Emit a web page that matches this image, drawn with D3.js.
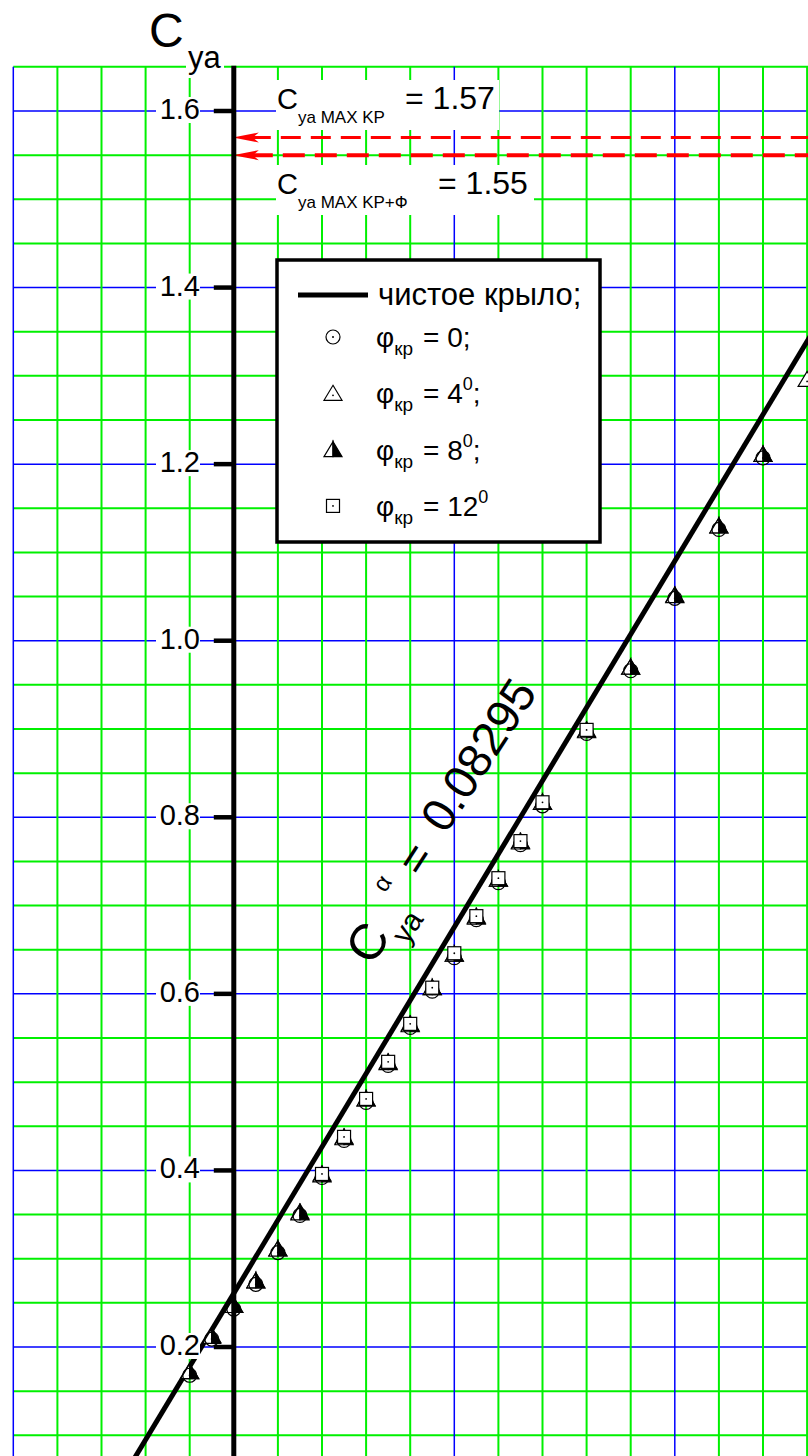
<!DOCTYPE html>
<html>
<head>
<meta charset="utf-8">
<script src="https://cdnjs.cloudflare.com/ajax/libs/d3/7.8.5/d3.min.js"></script>
<style>
    body { margin: 0; background: #fff; }
    svg { display: block; font-family: "Liberation Sans", Arial, sans-serif; }
</style>
</head>
<body>
<svg id="chart" width="808" height="1456"></svg>
<script>
// angle of attack, deg
var alphaMain = [-1, -0.5, 0, 0.5, 1, 1.5, 2, 2.5, 3, 3.5, 4, 4.5, 5, 5.5, 6, 6.5, 7, 8, 9, 10, 11, 12];
var alphaPhi4 = [-1, -0.5, 0, 0.5, 1, 1.5, 2, 2.5, 3, 3.5, 4, 4.5, 5, 5.5, 6, 6.5, 7, 8, 9, 10, 11, 12, 13];
var alphaPhi12 = [2, 2.5, 3, 3.5, 4, 4.5, 5, 5.5, 6, 6.5, 7, 8];

// Cya for each flap angle
var cyaPhi0 = [0.168, 0.209, 0.243, 0.271, 0.307, 0.349, 0.392, 0.434, 0.477, 0.519, 0.562, 0.603, 0.641, 0.684, 0.726, 0.769, 0.813, 0.895, 0.966, 1.048, 1.126, 1.207];
var cyaPhi4 = [0.172, 0.213, 0.247, 0.275, 0.311, 0.353, 0.396, 0.438, 0.481, 0.523, 0.566, 0.607, 0.645, 0.688, 0.730, 0.773, 0.817, 0.899, 0.970, 1.052, 1.130, 1.211, 1.296];
var cyaPhi8 = [0.172, 0.212, 0.247, 0.275, 0.311, 0.352, 0.395, 0.437, 0.481, 0.522, 0.565, 0.607, 0.645, 0.687, 0.730, 0.772, 0.817, 0.898, 0.970, 1.051, 1.130, 1.211];
var cyaPhi12 = [0.396, 0.438, 0.481, 0.523, 0.566, 0.607, 0.646, 0.688, 0.731, 0.773, 0.817, 0.899];

// clean wing: Cya = 0.261 + 0.08295*alpha
var fitAlpha = [-3, 14];
var fitCya = [0.012, 1.422];

var cyaMax = [1.57, 1.55];
var yTicks = [0.2, 0.4, 0.6, 0.8, 1.0, 1.2, 1.4, 1.6];
var xGrid = d3.range(-5, 14);
var yGrid = d3.range(1, 34).map(function (k) { return +(k * 0.05).toFixed(2); });

var svg = d3.select("#chart");
var x = d3.scaleLinear().domain([-5, 13]).range([13.3, 807.1]);
var y = d3.scaleLinear().domain([0.2, 1.6]).range([1347, 111]);

var CH = {
    grid: function () {
        var g = svg.append("g");
        var top = y(1.65), bottom = 1456;
        g.selectAll("line.h").data(yGrid).enter().append("line")
            .attr("x1", x(-5)).attr("x2", 808)
            .attr("y1", function (d) { return y(d); })
            .attr("y2", function (d) { return y(d); })
            .attr("stroke", function (d) { return Math.round(d * 100) % 20 == 0 ? "#0000ff" : "#00f000"; })
            .attr("stroke-width", function (d) { return Math.round(d * 100) % 20 == 0 ? 1.5 : 2; });
        g.selectAll("line.v").data(xGrid).enter().append("line")
            .attr("y1", top).attr("y2", bottom)
            .attr("x1", function (d) { return x(d); })
            .attr("x2", function (d) { return x(d); })
            .attr("stroke", function (d) { return d % 5 == 0 ? "#0000ff" : "#00f000"; })
            .attr("stroke-width", function (d) { return d % 5 == 0 ? 1.5 : 2; });
    },

    maxLines: function () {
        var g = svg.append("g");
        var x0 = x(0) - 1;
        cyaMax.forEach(function (v, i) {
            var yy = y(v);
            g.append("line")
                .attr("x1", x0 + 18).attr("x2", 808)
                .attr("y1", yy).attr("y2", yy)
                .attr("stroke", "#ff0000")
                .attr("stroke-width", i == 0 ? 3 : 4)
                .attr("stroke-dasharray", i == 0 ? "20,10" : "22,10");
            g.append("path")
                .attr("d", "M" + x0 + "," + yy + "L" + (x0 + 26) + "," + (yy - 5) + "L" + (x0 + 20) + "," + yy +
                    "L" + (x0 + 26) + "," + (yy + 5) + "Z")
                .attr("fill", "#ff0000");
        });
    },

    maxLabels: function () {
        var g = svg.append("g");
        g.append("rect").attr("x", 276).attr("y", 80).attr("width", 223).attr("height", 50).attr("fill", "#fff");
        g.append("rect").attr("x", 276).attr("y", 165).attr("width", 258).attr("height", 50).attr("fill", "#fff");
        var t1 = g.append("text").attr("x", 277).attr("y", 109).style("font-size", "29px");
        t1.append("tspan").text("C");
        t1.append("tspan").attr("dy", 14).style("font-size", "17px").text("ya MAX KP");
        g.append("text").attr("x", 405).attr("y", 109).style("font-size", "32px").text("= 1.57");
        var t2 = g.append("text").attr("x", 277).attr("y", 194).style("font-size", "29px");
        t2.append("tspan").text("C");
        t2.append("tspan").attr("dy", 14).style("font-size", "17px").text("ya MAX KP+Ф");
        g.append("text").attr("x", 438).attr("y", 194).style("font-size", "32px").text("= 1.55");
    },

    marker: function (g, type, cx, cy, s) {
        s = s || 1;
        if (type == "circle") {
            g.append("circle").attr("cx", cx).attr("cy", cy).attr("r", 7 * s)
                .attr("fill", "none").attr("stroke", "#000").attr("stroke-width", 1.2);
            g.append("circle").attr("cx", cx).attr("cy", cy).attr("r", 1).attr("fill", "#000");
        } else if (type == "tri") {
            g.append("path")
                .attr("d", "M" + cx + "," + (cy - 8 * s) + "L" + (cx + 9 * s) + "," + (cy + 7 * s) + "L" + (cx - 9 * s) + "," + (cy + 7 * s) + "Z")
                .attr("fill", "#fff").attr("stroke", "#000").attr("stroke-width", 1.2);
            g.append("circle").attr("cx", cx).attr("cy", cy + 2).attr("r", 0.9).attr("fill", "#000");
        } else if (type == "half") {
            g.append("path")
                .attr("d", "M" + cx + "," + (cy - 8 * s) + "L" + cx + "," + (cy + 7 * s) + "L" + (cx - 9 * s) + "," + (cy + 7 * s) + "Z")
                .attr("fill", "#fff").attr("stroke", "#000").attr("stroke-width", 1.2);
            g.append("path")
                .attr("d", "M" + cx + "," + (cy - 8 * s) + "L" + (cx + 9 * s) + "," + (cy + 7 * s) + "L" + cx + "," + (cy + 7 * s) + "Z")
                .attr("fill", "#000").attr("stroke", "#000").attr("stroke-width", 1.2);
        } else if (type == "square") {
            g.append("rect").attr("x", cx - 6.5 * s).attr("y", cy - 6.5 * s)
                .attr("width", 13 * s).attr("height", 13 * s)
                .attr("fill", "#fff").attr("stroke", "#000").attr("stroke-width", 1.2);
            g.append("circle").attr("cx", cx).attr("cy", cy).attr("r", 0.9).attr("fill", "#000");
        }
    },

    series: function (xs, ys, type) {
        var g = svg.append("g").attr("clip-path", "url(#plotclip)");
        for (var i = 0; i < xs.length; i++) {
            this.marker(g, type, x(xs[i]), y(ys[i]));
        }
    },

    fitLine: function () {
        var pts = fitAlpha.map(function (a, i) { return [a, fitCya[i]]; });
        svg.append("path")
            .attr("clip-path", "url(#plotclip)")
            .attr("d", d3.line().x(function (d) { return x(d[0]); }).y(function (d) { return y(d[1]); })(pts))
            .attr("stroke", "#000").attr("stroke-width", 5).attr("fill", "none");

        // slope label along the line
        var g = svg.append("g").attr("transform", "translate(424,868.5) rotate(-57)");
        g.append("text").attr("x", -111).attr("y", 10).style("font-size", "50px").text("C");
        g.append("text").attr("x", -74).attr("y", 28).style("font-size", "30px").text("ya");
        g.append("text").attr("x", -42).attr("y", -19).style("font-size", "24px").text("α");
        g.append("text").attr("x", -10).attr("y", 3).style("font-size", "46px").text("=");
        g.append("text").attr("x", 40).attr("y", 0).style("font-size", "47px").text("0.08295");
    },

    axis: function () {
        var g = svg.append("g");
        var x0 = x(0);
        g.append("line").attr("x1", x0).attr("x2", x0).attr("y1", y(1.65) - 1).attr("y2", 1456)
            .attr("stroke", "#000").attr("stroke-width", 5);
        g.selectAll("line.tick").data(yTicks).enter().append("line")
            .attr("x1", x0 - 20).attr("x2", x0)
            .attr("y1", function (d) { return y(d); })
            .attr("y2", function (d) { return y(d); })
            .attr("stroke", "#000").attr("stroke-width", 4.5);
        g.selectAll("rect.lb").data(yTicks).enter().append("rect")
            .attr("x", 156).attr("y", function (d) { return y(d) - 14; })
            .attr("width", 44).attr("height", 26).attr("fill", "#fff");
        g.selectAll("text.lb").data(yTicks).enter().append("text")
            .attr("x", 200).attr("y", function (d) { return y(d) + 8; })
            .attr("text-anchor", "end")
            .style("font-size", "29px")
            .text(function (d) { return d3.format(".1f")(d); });

        // title
        g.append("rect").attr("x", 186).attr("y", 50).attr("width", 38).attr("height", 28).attr("fill", "#fff");
        g.append("text").attr("x", 149).attr("y", 47).style("font-size", "48px").text("C");
        g.append("text").attr("x", 188).attr("y", 68).style("font-size", "31px").text("ya");
    },

    legend: function () {
        var g = svg.append("g");
        g.append("rect").attr("x", 277).attr("y", 260).attr("width", 323).attr("height", 282)
            .attr("fill", "#fff").attr("stroke", "#000").attr("stroke-width", 3.5);
        g.append("line").attr("x1", 298).attr("x2", 368).attr("y1", 295).attr("y2", 295)
            .attr("stroke", "#000").attr("stroke-width", 5);
        g.append("text").attr("x", 378).attr("y", 305).style("font-size", "31px").text("чистое крыло;");

        var rows = [
            { type: "circle", val: "0", sup: "", end: ";" },
            { type: "tri", val: "4", sup: "0", end: ";" },
            { type: "half", val: "8", sup: "0", end: ";" },
            { type: "square", val: "12", sup: "0", end: "" }
        ];
        var self = this;
        rows.forEach(function (r, i) {
            var base = 347 + i * 56.3;
            self.marker(g, r.type, 333, base - 10, 1);
            var t = g.append("text").attr("x", 376).attr("y", base).style("font-size", "28px");
            t.append("tspan").text("φ");
            t.append("tspan").attr("dy", 8).style("font-size", "19px").text("кр");
            var t2 = g.append("text").attr("x", 423).attr("y", base).style("font-size", "28px");
            t2.append("tspan").text("= " + r.val);
            if (r.sup) t2.append("tspan").attr("dy", -13).style("font-size", "18px").text(r.sup);
            if (r.end) t2.append("tspan").attr("dy", r.sup ? 13 : 0).text(r.end);
        });
    },

    Main: function () {
        svg.append("defs").append("clipPath").attr("id", "plotclip")
            .append("rect").attr("x", x(-5)).attr("y", y(1.65)).attr("width", 808 - x(-5)).attr("height", 1456 - y(1.65));
        this.grid();
        this.maxLines();
        this.maxLabels();
        this.legend();
        this.fitLine();
        this.series(alphaPhi4, cyaPhi4, "tri");
        this.series(alphaMain, cyaPhi8, "half");
        this.series(alphaMain, cyaPhi0, "circle");
        this.series(alphaPhi12, cyaPhi12, "square");
        this.axis();
    }
};

CH.Main();
</script>
</body>
</html>
